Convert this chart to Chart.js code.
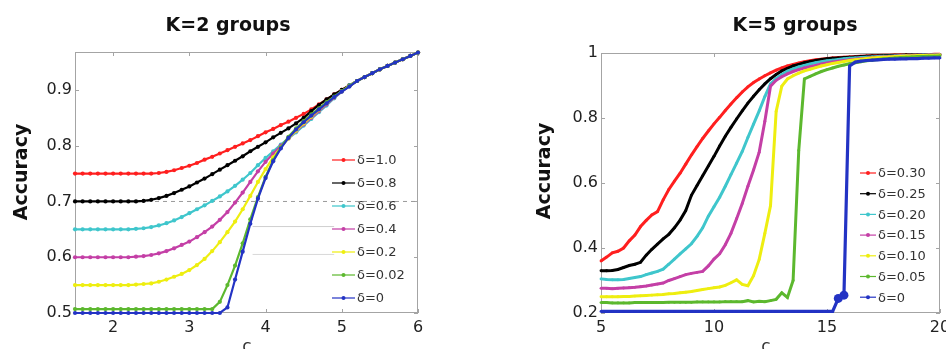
<!DOCTYPE html>
<html>
<head>
<meta charset="utf-8">
<script src="https://cdn.jsdelivr.net/npm/chart.js@4.4.1/dist/chart.umd.min.js"></script>
<style>
  html, body { margin: 0; padding: 0; background: #fff; overflow: hidden; }
  .panel { position: absolute; top: 0; width: 473px; height: 349px; }
  #left { left: 0; }
  #right { left: 473px; }
</style>
</head>
<body>
<div class="panel" id="left"><canvas id="c1"></canvas></div>
<div class="panel" id="right"><canvas id="c2"></canvas></div>
<script>
// ---- K=2 groups (left) ----
const xLeft = [1.5, 1.6, 1.7, 1.8, 1.9, 2.0, 2.1, 2.2, 2.3, 2.4,
  2.5, 2.6, 2.7, 2.8, 2.9, 3.0, 3.1, 3.2, 3.3, 3.4,
  3.5, 3.6, 3.7, 3.8, 3.9, 4.0, 4.1, 4.2, 4.3, 4.4,
  4.5, 4.6, 4.7, 4.8, 4.9, 5.0, 5.1, 5.2, 5.3, 5.4,
  5.5, 5.6, 5.7, 5.8, 5.9, 6.0];

const d10 = [0.75, 0.75, 0.75, 0.75, 0.75, 0.75, 0.75, 0.75, 0.75, 0.75,
  0.750, 0.751, 0.753, 0.756, 0.760, 0.764, 0.769, 0.775, 0.780, 0.786,
  0.792, 0.798, 0.804, 0.810, 0.817, 0.824, 0.830, 0.837, 0.843, 0.850,
  0.857, 0.865, 0.874, 0.883, 0.892, 0.900, 0.908, 0.916, 0.923, 0.930,
  0.937, 0.943, 0.949, 0.955, 0.961, 0.967];
const d08 = [0.70, 0.70, 0.70, 0.70, 0.70, 0.70, 0.70, 0.70, 0.700, 0.701,
  0.703, 0.706, 0.710, 0.715, 0.721, 0.727, 0.734, 0.741, 0.749, 0.757,
  0.765, 0.773, 0.781, 0.790, 0.798, 0.806, 0.815, 0.823, 0.831, 0.840,
  0.850, 0.862, 0.873, 0.883, 0.892, 0.900, 0.908, 0.916, 0.923, 0.930,
  0.937, 0.943, 0.949, 0.955, 0.961, 0.967];
const d06 = [0.65, 0.65, 0.65, 0.65, 0.65, 0.65, 0.65, 0.650, 0.651, 0.652,
  0.654, 0.657, 0.661, 0.666, 0.672, 0.679, 0.686, 0.693, 0.701, 0.709,
  0.718, 0.728, 0.739, 0.751, 0.765, 0.778, 0.790, 0.802, 0.813, 0.824,
  0.836, 0.848, 0.860, 0.872, 0.885, 0.897, 0.908, 0.916, 0.923, 0.930,
  0.937, 0.943, 0.949, 0.955, 0.961, 0.967];
const d04 = [0.60, 0.60, 0.60, 0.60, 0.60, 0.60, 0.60, 0.60, 0.601, 0.602,
  0.604, 0.607, 0.611, 0.616, 0.622, 0.628, 0.636, 0.645, 0.655, 0.667,
  0.681, 0.698, 0.716, 0.735, 0.754, 0.771, 0.786, 0.800, 0.813, 0.826,
  0.838, 0.850, 0.862, 0.874, 0.886, 0.897, 0.907, 0.916, 0.923, 0.930,
  0.937, 0.943, 0.949, 0.955, 0.961, 0.967];
const d02 = [0.55, 0.55, 0.55, 0.55, 0.55, 0.55, 0.55, 0.55, 0.551, 0.552,
  0.553, 0.556, 0.560, 0.565, 0.570, 0.577, 0.586, 0.597, 0.611, 0.627,
  0.645, 0.664, 0.686, 0.710, 0.735, 0.758, 0.779, 0.797, 0.813, 0.827,
  0.840, 0.852, 0.864, 0.876, 0.887, 0.898, 0.907, 0.916, 0.923, 0.930,
  0.937, 0.943, 0.949, 0.955, 0.961, 0.967];
const d002 = [0.507, 0.507, 0.507, 0.507, 0.507, 0.507, 0.507, 0.507, 0.507, 0.507,
  0.507, 0.507, 0.507, 0.507, 0.507, 0.507, 0.507, 0.507, 0.507, 0.520,
  0.550, 0.585, 0.625, 0.668, 0.708, 0.744, 0.774, 0.797, 0.816, 0.831,
  0.844, 0.856, 0.867, 0.878, 0.888, 0.898, 0.907, 0.916, 0.923, 0.930,
  0.937, 0.943, 0.949, 0.955, 0.961, 0.967];
const d00 = [0.500, 0.500, 0.500, 0.500, 0.500, 0.500, 0.500, 0.500, 0.500, 0.500,
  0.500, 0.500, 0.500, 0.500, 0.500, 0.500, 0.500, 0.500, 0.500, 0.500,
  0.510, 0.560, 0.610, 0.660, 0.705, 0.742, 0.772, 0.795, 0.814, 0.829,
  0.842, 0.854, 0.865, 0.876, 0.887, 0.897, 0.906, 0.916, 0.923, 0.930,
  0.937, 0.943, 0.949, 0.955, 0.961, 0.967];

const leftLabels = ["δ=1.0", "δ=0.8", "δ=0.6", "δ=0.4", "δ=0.2", "δ=0.02", "δ=0"];
const xTicksLeft = [2, 3, 4, 5, 6];
const xTickLabelsLeft = ["2", "3", "4", "5", "6"];
const yTicksLeft = [0.5, 0.6, 0.7, 0.8, 0.9];
const yTickLabelsLeft = ["0.5", "0.6", "0.7", "0.8", "0.9"];

// reference lines seen behind the curves
const dashX = [1.5, 6.0];
const dashY = [0.7, 0.7];
const faintX = [3.83, 4.9];
const faintY1 = [0.655, 0.655];
const faintY2 = [0.605, 0.605];

// ---- K=5 groups (right) ----
const xRight = [5, 5.25, 5.5, 5.75, 6, 6.25, 6.5, 6.75, 7, 7.25,
  7.5, 7.75, 8, 8.25, 8.5, 8.75, 9, 9.25, 9.5, 9.75,
  10, 10.25, 10.5, 10.75, 11, 11.25, 11.5, 11.75, 12, 12.25,
  12.5, 12.75, 13, 13.25, 13.5, 13.75, 14, 14.25, 14.5, 14.75,
  15, 15.25, 15.5, 15.75, 16, 16.25, 16.5, 16.75, 17, 17.25,
  17.5, 17.75, 18, 18.25, 18.5, 18.75, 19, 19.25, 19.5, 19.75,
  20];

const r30 = [0.360, 0.372, 0.385, 0.390, 0.400, 0.422, 0.440, 0.466, 0.485, 0.502,
  0.512, 0.548, 0.580, 0.606, 0.630, 0.658, 0.686, 0.712, 0.737, 0.760,
  0.782, 0.802, 0.823, 0.843, 0.862, 0.880, 0.896, 0.909, 0.920, 0.930,
  0.939, 0.947, 0.954, 0.960, 0.965, 0.969, 0.973, 0.976, 0.979, 0.981,
  0.983, 0.985, 0.986, 0.987, 0.988, 0.989, 0.990, 0.991, 0.992, 0.992,
  0.993, 0.993, 0.994, 0.994, 0.994, 0.995, 0.995, 0.995, 0.995, 0.996,
  0.996];
const r25 = [0.330, 0.330, 0.331, 0.334, 0.340, 0.346, 0.350, 0.356, 0.378, 0.396,
  0.412, 0.428, 0.442, 0.462, 0.486, 0.515, 0.562, 0.592, 0.622, 0.652,
  0.682, 0.714, 0.744, 0.771, 0.797, 0.822, 0.846, 0.867, 0.887, 0.905,
  0.921, 0.934, 0.945, 0.953, 0.960, 0.965, 0.970, 0.974, 0.977, 0.980,
  0.982, 0.984, 0.985, 0.986, 0.987, 0.988, 0.989, 0.990, 0.991, 0.991,
  0.992, 0.992, 0.993, 0.993, 0.994, 0.994, 0.994, 0.995, 0.995, 0.995,
  0.995];
const r20 = [0.305, 0.303, 0.302, 0.302, 0.303, 0.306, 0.309, 0.312, 0.318, 0.323,
  0.328, 0.335, 0.350, 0.366, 0.382, 0.397, 0.413, 0.436, 0.462, 0.498,
  0.527, 0.556, 0.590, 0.626, 0.661, 0.697, 0.740, 0.781, 0.822, 0.866,
  0.905, 0.922, 0.934, 0.944, 0.951, 0.957, 0.962, 0.966, 0.970, 0.973,
  0.976, 0.978, 0.980, 0.982, 0.984, 0.985, 0.986, 0.987, 0.988, 0.989,
  0.990, 0.990, 0.991, 0.992, 0.992, 0.993, 0.993, 0.994, 0.994, 0.994,
  0.995];
const r15 = [0.276, 0.276, 0.275, 0.276, 0.277, 0.278, 0.279, 0.281, 0.283, 0.286,
  0.289, 0.292, 0.300, 0.306, 0.312, 0.318, 0.322, 0.325, 0.328, 0.345,
  0.366, 0.382, 0.410, 0.445, 0.490, 0.537, 0.590, 0.640, 0.695, 0.790,
  0.898, 0.916, 0.927, 0.936, 0.943, 0.949, 0.954, 0.958, 0.962, 0.966,
  0.969, 0.972, 0.975, 0.977, 0.979, 0.981, 0.983, 0.984, 0.986, 0.987,
  0.988, 0.989, 0.990, 0.991, 0.991, 0.992, 0.993, 0.993, 0.994, 0.994,
  0.994];
const r10 = [0.250, 0.250, 0.250, 0.250, 0.251, 0.251, 0.252, 0.253, 0.254, 0.255,
  0.256, 0.257, 0.259, 0.260, 0.262, 0.264, 0.266, 0.269, 0.272, 0.275,
  0.278, 0.280, 0.285, 0.293, 0.302, 0.288, 0.284, 0.315, 0.365, 0.445,
  0.530, 0.820, 0.898, 0.920, 0.930, 0.938, 0.945, 0.950, 0.955, 0.960,
  0.964, 0.968, 0.971, 0.974, 0.977, 0.979, 0.981, 0.983, 0.985, 0.986,
  0.987, 0.988, 0.989, 0.990, 0.991, 0.991, 0.992, 0.992, 0.993, 0.993,
  0.994];
const r05 = [0.232, 0.232, 0.231, 0.231, 0.231, 0.231, 0.232, 0.232, 0.232, 0.232,
  0.232, 0.232, 0.233, 0.233, 0.233, 0.233, 0.233, 0.234, 0.234, 0.234,
  0.234, 0.234, 0.235, 0.235, 0.235, 0.235, 0.238, 0.234, 0.236, 0.235,
  0.238, 0.242, 0.262, 0.248, 0.300, 0.700, 0.920, 0.928, 0.936, 0.943,
  0.949, 0.954, 0.959, 0.963, 0.967, 0.970, 0.973, 0.976, 0.978, 0.980,
  0.982, 0.983, 0.985, 0.986, 0.987, 0.988, 0.989, 0.989, 0.990, 0.990,
  0.991];
const r00 = [0.205, 0.205, 0.205, 0.205, 0.205, 0.205, 0.205, 0.205, 0.205, 0.205,
  0.205, 0.205, 0.205, 0.205, 0.205, 0.205, 0.205, 0.205, 0.205, 0.205,
  0.205, 0.205, 0.205, 0.205, 0.205, 0.205, 0.205, 0.205, 0.205, 0.205,
  0.205, 0.205, 0.205, 0.205, 0.205, 0.205, 0.205, 0.205, 0.205, 0.205,
  0.205, 0.205, 0.245, 0.255, 0.960, 0.972, 0.975, 0.977, 0.978, 0.979,
  0.980, 0.981, 0.981, 0.982, 0.982, 0.983, 0.983, 0.984, 0.984, 0.985,
  0.985];

const rightLabels = ["δ=0.30", "δ=0.25", "δ=0.20", "δ=0.15", "δ=0.10", "δ=0.05", "δ=0"];
const xTicksRight = [5, 10, 15, 20];
const xTickLabelsRight = ["5", "10", "15", "20"];
const yTicksRight = [0.2, 0.4, 0.6, 0.8, 1.0];
const yTickLabelsRight = ["0.2", "0.4", "0.6", "0.8", "1"];

const colors = ["#ff1f1f", "#000000", "#3fc6cc", "#c43fa6", "#eeee10", "#5cb82e", "#2333c4"];

Chart.defaults.font.family = '"DejaVu Sans", sans-serif';
Chart.defaults.color = "#222";

function pts(xs, ys) {
  return xs.map((x, i) => ({ x: x, y: ys[i] }));
}

// frame, inward ticks, titles and legend drawn on top of the library layout
const decor = {
  id: "decor",
  beforeDatasetsDraw(chart, args, o) {
    const { ctx, chartArea: a, scales } = chart;
    ctx.save();
    ctx.strokeStyle = "#a4a4a4";
    ctx.lineWidth = 1;
    ctx.strokeRect(a.left + 0.5, a.top + 0.5, a.right - a.left - 1, a.bottom - a.top - 1);
    ctx.beginPath();
    scales.x.ticks.forEach((t) => {
      const px = Math.round(scales.x.getPixelForValue(t.value)) + 0.5;
      ctx.moveTo(px, a.bottom); ctx.lineTo(px, a.bottom - 4);
      ctx.moveTo(px, a.top); ctx.lineTo(px, a.top + 4);
    });
    scales.y.ticks.forEach((t) => {
      const py = Math.round(scales.y.getPixelForValue(t.value)) + 0.5;
      ctx.moveTo(a.left, py); ctx.lineTo(a.left + 4, py);
      ctx.moveTo(a.right, py); ctx.lineTo(a.right - 4, py);
    });
    ctx.stroke();
    ctx.restore();
  },
  afterDraw(chart, args, o) {
    const { ctx } = chart;
    ctx.save();
    ctx.fillStyle = "#111";
    ctx.textAlign = "center";
    ctx.textBaseline = "middle";
    ctx.font = 'bold 19px "DejaVu Sans"';
    ctx.fillText(o.title, o.titleX, o.titleY);
    ctx.save();
    ctx.translate(o.yTitleX, o.yTitleY);
    ctx.rotate(-Math.PI / 2);
    ctx.fillText("Accuracy", 0, 0);
    ctx.restore();
    ctx.font = '17px "DejaVu Sans"';
    ctx.textBaseline = "top";
    ctx.fillStyle = "#333";
    ctx.fillText("c", o.xTitleX, o.xTitleY);

    // legend
    const L = o.legend;
    ctx.font = '13px "DejaVu Sans"';
    ctx.textAlign = "left";
    ctx.textBaseline = "middle";
    L.labels.forEach((lab, i) => {
      const y = L.y0 + i * L.dy;
      const c = colors[i];
      ctx.strokeStyle = c;
      ctx.fillStyle = c;
      ctx.lineWidth = 1.2;
      ctx.beginPath();
      ctx.moveTo(L.lx0, y); ctx.lineTo(L.lx1, y);
      ctx.stroke();
      ctx.beginPath();
      ctx.arc((L.lx0 + L.lx1) / 2, y, 2, 0, Math.PI * 2);
      ctx.fill();
      ctx.fillStyle = "#333";
      ctx.fillText(lab, L.tx, y + 1);
    });
    ctx.restore();
  }
};

function makeSeries(xs, list, labels, width, radius) {
  return list.map((ys, i) => ({
    label: labels[i],
    data: pts(xs, ys),
    borderColor: colors[i],
    backgroundColor: colors[i],
    borderWidth: width,
    pointRadius: radius,
    pointBorderWidth: 0,
    pointBackgroundColor: colors[i],
    tension: 0,
    fill: false,
    clip: 6,
    order: 10 - i
  }));
}

function refLine(xs, ys, color, dash) {
  return {
    label: "",
    data: pts(xs, ys),
    borderColor: color,
    borderWidth: 1,
    borderDash: dash,
    pointRadius: 0,
    fill: false,
    order: 20
  };
}

function axisOptions(min, max, ticks, labels, fixed, isX) {
  return {
    type: "linear",
    min: min,
    max: max,
    grid: { display: false, drawTicks: false },
    border: { display: false },
    ticks: {
      padding: isX ? 5 : 3,
      font: { size: 16 },
      color: "#222",
      autoSkip: false,
      maxRotation: 0,
      includeBounds: false,
      callback: (v, i) => labels[i]
    },
    afterBuildTicks: (s) => { s.ticks = ticks.map((v) => ({ value: v })); },
    afterFit: (s) => {
      if (isX) { s.height = fixed; s.paddingLeft = 0; s.paddingRight = 0; }
      else { s.width = fixed; s.paddingTop = 0; s.paddingBottom = 0; }
    }
  };
}

const leftSets = makeSeries(xLeft, [d10, d08, d06, d04, d02, d002, d00], leftLabels, 2.2, 2.1);
leftSets.push(refLine(dashX, dashY, "#9a9a9a", [4, 4]));
leftSets.push(refLine(faintX, faintY1, "#cfcfcf", []));
leftSets.push(refLine(faintX, faintY2, "#d8d8d8", []));

new Chart(document.getElementById("c1"), {
  type: "line",
  data: { datasets: leftSets },
  plugins: [decor],
  options: {
    responsive: true,
    maintainAspectRatio: false,
    animation: false,
    devicePixelRatio: 1,
    layout: { padding: { left: 0, top: 52, right: 55, bottom: 0 } },
    plugins: {
      legend: { display: false },
      tooltip: { enabled: false },
      decor: {
        title: "K=2 groups", titleX: 228, titleY: 26,
        yTitleX: 22, yTitleY: 172,
        xTitleX: 247, xTitleY: 339,
        legend: { labels: leftLabels, lx0: 332, lx1: 355, tx: 357, y0: 160, dy: 23 }
      }
    },
    scales: {
      x: axisOptions(1.5, 6, xTicksLeft, xTickLabelsLeft, 36, true),
      y: axisOptions(0.5, 0.968, yTicksLeft, yTickLabelsLeft, 75, false)
    }
  }
});

const rightSets = makeSeries(xRight, [r30, r25, r20, r15, r10, r05, r00], rightLabels, 3, 1.4);
// the δ=0 curve shows a cluster of large markers just before its jump
rightSets[6].pointRadius = r00.map((v) => (v > 0.22 && v < 0.3 ? 4.5 : 1.4));
rightSets[6].borderWidth = 3.2;

new Chart(document.getElementById("c2"), {
  type: "line",
  data: { datasets: rightSets },
  plugins: [decor],
  options: {
    responsive: true,
    maintainAspectRatio: false,
    animation: false,
    devicePixelRatio: 1,
    layout: { padding: { left: 0, top: 53, right: 6, bottom: 0 } },
    plugins: {
      legend: { display: false },
      tooltip: { enabled: false },
      decor: {
        title: "K=5 groups", titleX: 322, titleY: 26,
        yTitleX: 72, yTitleY: 171,
        xTitleX: 293, xTitleY: 339,
        legend: { labels: rightLabels, lx0: 387, lx1: 403, tx: 405, y0: 173, dy: 20.7 }
      }
    },
    scales: {
      x: axisOptions(5, 20, xTicksRight, xTickLabelsRight, 36, true),
      y: axisOptions(0.2, 1.0, yTicksRight, yTickLabelsRight, 128, false)
    }
  }
});
</script>
</body>
</html>
